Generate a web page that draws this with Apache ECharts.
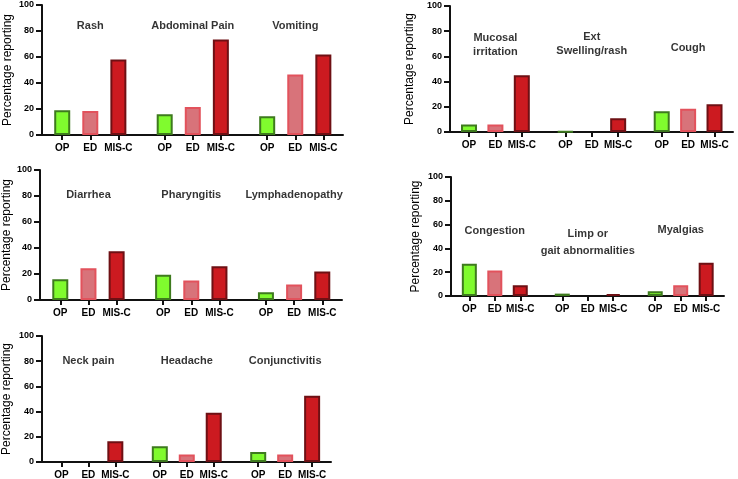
<!DOCTYPE html>
<html>
<head>
<meta charset="utf-8">
<script src="https://cdn.jsdelivr.net/npm/echarts@6/dist/echarts.min.js"></script>
<style>
html,body{margin:0;padding:0;background:#fff;}
#chart{width:738px;height:479px;}
</style>
</head>
<body>
<div id="chart"></div>
<script>
// ---- data ----
const categories = ['OP', 'ED', 'MIS-C'];
const yTickValues = [0, 20, 40, 60, 80, 100];
const yAxisName = 'Percentage reporting';

const panel1Symptoms = ['Rash', 'Abdominal Pain', 'Vomiting'];
const panel1Values = [[19, 18.5, 58], [16, 21.5, 73.5], [14.5, 46.5, 62]];

const panel2Symptoms = ['Mucosal\nirritation', 'Ext\nSwelling/rash', 'Cough'];
const panel2Values = [[6, 6, 45], [0.5, 0, 11], [16.5, 18.5, 22]];

const panel3Symptoms = ['Diarrhea', 'Pharyngitis', 'Lymphadenopathy'];
const panel3Values = [[16, 24.5, 37.5], [19.5, 15, 26], [6, 12, 22]];

const panel4Symptoms = ['Congestion', 'Limp or\ngait abnormalities', 'Myalgias'];
const panel4Values = [[27, 21.5, 9], [2, 0, 1.5], [4, 9, 28]];

const panel5Symptoms = ['Neck pain', 'Headache', 'Conjunctivitis'];
const panel5Values = [[0, 0, 16.5], [12.5, 6, 39], [8, 6, 52.5]];

// ---- styles ----
const fills = ['#80fb2e', '#d8737a', '#cc1a20'];
const borders = ['#3e7a1e', '#e2525c', '#6e1014'];
const G = 3.65; // group spacing in bar units
const posOf = (g, i) => g * G + i;
const FONT = "'Liberation Sans', Arial, Helvetica, sans-serif";

const panels = [
  {symptoms: panel1Symptoms, values: panel1Values, grid: {left: 42, top: 5, width: 301, height: 130}, barW: 16, nameGap: 28, titleY: [84, 84, 84], lh: 14},
  {symptoms: panel2Symptoms, values: panel2Values, grid: {left: 450, top: 6, width: 283, height: 126}, barW: 16, nameGap: 34, titleY: [69, 69.5, 67], lh: 14},
  {symptoms: panel3Symptoms, values: panel3Values, grid: {left: 40, top: 170, width: 302, height: 130}, barW: 16, nameGap: 27, titleY: [81, 81, 81], lh: 14},
  {symptoms: panel4Symptoms, values: panel4Values, grid: {left: 451, top: 177, width: 273, height: 119}, barW: 15, nameGap: 29, titleY: [54.5, 45, 55.3], lh: 17},
  {symptoms: panel5Symptoms, values: panel5Values, grid: {left: 42, top: 336, width: 289, height: 126}, barW: 16, nameGap: 29, titleY: [80, 80, 80], lh: 14}
];

const positions = [];
for (let g = 0; g < 3; g++) for (let i = 0; i < 3; i++) positions.push(posOf(g, i));

const option = {
  backgroundColor: '#fff',
  animation: false,
  grid: [], xAxis: [], yAxis: [], series: []
};

panels.forEach((p, k) => {
  option.grid.push(Object.assign({outerBoundsMode: 'none', containLabel: false}, p.grid));
  option.xAxis.push({
    type: 'value', gridIndex: k, min: -0.72, max: 10.0,
    splitLine: {show: false},
    axisLine: {show: true, onZero: false, lineStyle: {color: '#111', width: 2}},
    axisTick: {show: true, customValues: positions, length: 5, lineStyle: {color: '#111', width: 2}},
    axisLabel: {
      customValues: positions, color: '#000', fontSize: 10, fontWeight: 'bold', fontFamily: FONT, margin: 8,
      formatter: v => {
        const j = positions.findIndex(q => Math.abs(q - v) < 0.01);
        return j >= 0 ? categories[j % 3] : '';
      }
    }
  });
  option.yAxis.push({
    type: 'value', gridIndex: k, min: 0, max: 100, interval: 20,
    name: yAxisName, nameLocation: 'middle', nameGap: p.nameGap, nameRotate: 90,
    nameTextStyle: {color: '#000', fontSize: 12, fontFamily: FONT},
    splitLine: {show: false},
    axisLine: {show: true, onZero: false, lineStyle: {color: '#111', width: 2}},
    axisTick: {show: true, length: 6, lineStyle: {color: '#111', width: 2}},
    axisLabel: {color: '#000', fontSize: 9, fontWeight: 'bold', fontFamily: FONT, margin: 8}
  });
  const barData = [];
  p.values.forEach((grp, g) => grp.forEach((v, i) => {
    barData.push({
      value: [posOf(g, i), v],
      itemStyle: {color: fills[i], borderColor: borders[i], borderWidth: v > 0 ? 2 : 0}
    });
  }));
  option.series.push({
    type: 'bar', xAxisIndex: k, yAxisIndex: k, barWidth: p.barW, data: barData
  });
  option.series.push({
    type: 'scatter', xAxisIndex: k, yAxisIndex: k, symbolSize: 0, silent: true,
    data: p.symptoms.map((s, g) => ({value: [posOf(g, 1), p.titleY[g]], name: s})),
    label: {
      show: true, position: 'inside', formatter: d => d.name, align: 'center',
      color: '#000', fontSize: 11, fontWeight: 'bold', fontFamily: FONT, lineHeight: p.lh
    }
  });
});

const chart = echarts.init(document.getElementById('chart'), null, {renderer: 'canvas'});
chart.setOption(option);
</script>
</body>
</html>
